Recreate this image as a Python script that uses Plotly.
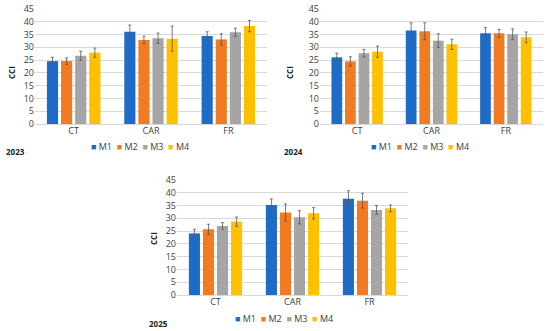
import plotly.graph_objects as go

categories = ["CT", "CAR", "FR"]
series_names = ["M1", "M2", "M3", "M4"]
colors = ["#1F6CC8", "#F27A22", "#A5A5A5", "#FFC000"]

years = ["2023", "2024", "2025"]

values_2023 = {
    "M1": [24.6, 36.1, 34.4],
    "M2": [24.6, 32.9, 33.1],
    "M3": [26.7, 33.6, 35.9],
    "M4": [27.9, 33.4, 38.3],
}
errors_2023 = {
    "M1": [1.5, 2.6, 1.7],
    "M2": [1.3, 1.5, 2.2],
    "M3": [1.8, 2.0, 1.6],
    "M4": [1.8, 4.9, 2.2],
}
values_2024 = {
    "M1": [26.1, 36.6, 35.5],
    "M2": [24.5, 36.3, 35.5],
    "M3": [27.7, 32.6, 35.1],
    "M4": [28.3, 31.2, 33.9],
}
errors_2024 = {
    "M1": [1.6, 3.0, 2.2],
    "M2": [1.8, 3.3, 1.5],
    "M3": [1.5, 2.7, 2.1],
    "M4": [2.2, 2.0, 2.1],
}
values_2025 = {
    "M1": [24.1, 35.2, 37.7],
    "M2": [25.7, 32.3, 36.9],
    "M3": [27.0, 30.4, 33.3],
    "M4": [28.7, 32.0, 33.9],
}
errors_2025 = {
    "M1": [1.6, 2.4, 3.1],
    "M2": [2.0, 3.3, 2.9],
    "M3": [1.3, 2.6, 1.7],
    "M4": [1.8, 2.2, 1.3],
}

y_ticks = [0, 5, 10, 15, 20, 25, 30, 35, 40, 45]

W, H = 550, 331
FONT = "Open Sans"

panels = [
    # year, values, errors, x pixel range, y pixel range (top, bottom),
    # legend centre, year label pos, y-title pos
    ("2023", values_2023, errors_2023, (35, 267), (9, 124), (140, 146), (4, 152), (11, 73)),
    ("2024", values_2024, errors_2024, (320, 543), (9, 124), (420, 146), (282, 152), (289, 73)),
    ("2025", values_2025, errors_2025, (177, 408), (180, 295), (284, 318), (147, 323), (153, 239)),
]

fig = go.Figure()
annotations = []
layout = {}

for i, (year, vals, errs, (x0, x1), (yt, yb), (lx, ly), (tx, ty), (cx, cy)) in enumerate(panels):
    n = "" if i == 0 else str(i + 1)
    xa, ya = "x" + n, "y" + n
    for j, s in enumerate(series_names):
        fig.add_trace(go.Bar(
            x=categories, y=vals[s], name=s, showlegend=False,
            marker=dict(color=colors[j], line=dict(width=0)),
            error_y=dict(type="data", array=errs[s], visible=True,
                         color="#595959", thickness=0.8, width=1.5),
            xaxis=xa, yaxis=ya,
        ))
    layout["xaxis" + n] = dict(
        domain=[x0 / W, x1 / W], anchor=ya, automargin=False,
        showgrid=False, showline=False, ticks="",
        tickfont=dict(size=9, color="#404040", family=FONT),
    )
    layout["yaxis" + n] = dict(
        domain=[1 - yb / H, 1 - yt / H], anchor=xa, automargin=False,
        range=[0, 45], tickvals=y_ticks,
        showgrid=True, gridcolor="#D9D9D9", gridwidth=1,
        zeroline=True, zerolinecolor="#D9D9D9", zerolinewidth=1,
        showline=False, ticks="",
        tickfont=dict(size=9, color="#404040", family=FONT),
    )
    annotations.append(dict(
        text="<b>CCI</b>", x=cx / W, y=1 - cy / H, textangle=-90,
        xref="paper", yref="paper", xanchor="center", yanchor="middle",
        showarrow=False, font=dict(size=8, color="#202020", family=FONT),
    ))
    legend_text = "&nbsp;&nbsp;".join(
        '<span style="color:%s">■</span> %s' % (c, s) for c, s in zip(colors, series_names)
    )
    annotations.append(dict(
        text=legend_text, x=lx / W, y=1 - ly / H,
        xref="paper", yref="paper", xanchor="center", yanchor="middle",
        showarrow=False, font=dict(size=9, color="#404040", family=FONT),
    ))
    annotations.append(dict(
        text="<b>" + year + "</b>", x=tx / W, y=1 - ty / H,
        xref="paper", yref="paper", xanchor="left", yanchor="middle",
        showarrow=False, font=dict(size=8, color="#202020", family=FONT),
    ))

fig.update_layout(
    width=W, height=H,
    margin=dict(l=0, r=0, t=0, b=0, autoexpand=False),
    paper_bgcolor="white", plot_bgcolor="white",
    barmode="group", bargap=0.27, bargroupgap=0.21,
    showlegend=False,
    annotations=annotations,
    **layout,
)

fig.write_html(
    "out.html",
    config={"displayModeBar": False},
    post_script="document.body.style.margin='0';document.body.style.padding='0';",
)
